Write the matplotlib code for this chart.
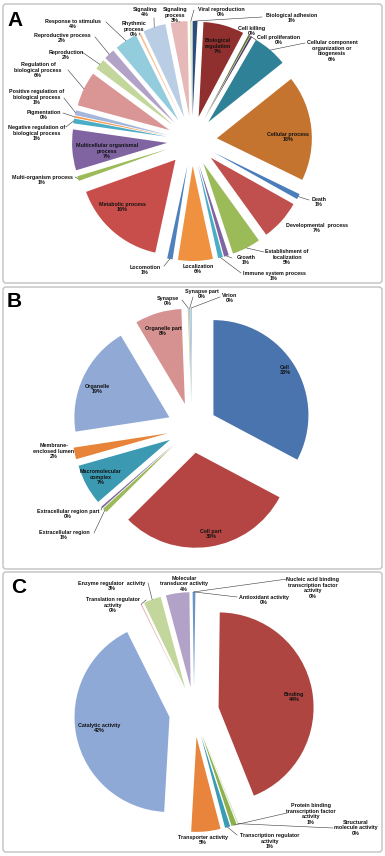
import matplotlib
matplotlib.use("Agg")
import matplotlib.pyplot as plt
import numpy as np
from matplotlib.patches import FancyBboxPatch

W, H = 385, 856

# ---------------- Panel A : biological process ----------------
A_categories = [
    "Biological adhesion", "Biological\nregulation", "Cell killing", "Cell proliferation",
    "Cellular component\norganization or\nbiogenesis", "Cellular process", "Death",
    "Developmental  process", "Establishment of\nlocalization", "Growth",
    "Immune system process", "Localization", "Locomotion", "Metabolic process",
    "Multi-organism process", "Multicellular organismal\nprocess",
    "Negative regulation of\nbiological process", "Pigmentation",
    "Positive regulation of\nbiological process", "Regulation of\nbiological process",
    "Reproduction", "Reproductive process", "Response to stimulus", "Rhythmic\nprocess",
    "Signaling", "Signaling\nprocess", "Viral reproduction",
]
A_values = [0.8, 6.8, 0.3, 0.3, 5.8, 17.6, 0.9, 6.8, 4.8, 0.8, 0.8, 5.8, 0.9, 15.8,
            0.8, 6.8, 0.8, 0.3, 0.8, 5.8, 1.8, 1.8, 3.8, 0.3, 3.8, 2.8, 0.3]
A_colors = ["#2C4D75", "#8F2F2E", "#5F7530", "#4D3B62", "#2E8196", "#C5742F",
            "#4A7EBB", "#C0504D", "#9BBB59", "#8064A2", "#4BACC6", "#F0913F",
            "#4F81BD", "#C84E4B", "#9BBB59", "#8064A2", "#4BACC6", "#F79646",
            "#A5B6DC", "#DA9694", "#C3D69B", "#B3A2C7", "#93CDDD", "#FAC090",
            "#B9CDE5", "#E6B9B8", "#D7E4BD"]

# ---------------- Panel B : cellular component ----------------
B_categories = ["Cell", "Cell part", "Extracellular region", "Extracellular region part",
                "Macromolecular\ncomplex", "Membrane-\nenclosed lumen", "Organelle",
                "Organelle part", "Synapse", "Synapse part", "Virion"]
B_values = [33, 30, 0.8, 0.3, 7, 2, 19, 8, 0.2, 0.2, 0.2]
B_colors = ["#4A74AD", "#B44542", "#9BBB59", "#8064A2", "#3B9AB2", "#E8843A",
            "#91A9D5", "#D69290", "#C3D69B", "#B3A2C7", "#93CDDD"]

# ---------------- Panel C : molecular function ----------------
C_categories = ["Antioxidant activity", "Binding", "Structural\nmolecule activity",
                "Protein binding\ntranscription factor\nactivity",
                "Transcription regulator\nactivity", "Transporter activity",
                "Catalytic activity", "Translation regulator\nactivity",
                "Enzyme regulator  activity", "Molecular\ntransducer activity",
                "Nucleic acid binding\ntranscription factor\nactivity"]
C_values = [0.2, 44, 0.2, 0.9, 0.9, 5, 42, 0.2, 3, 4, 0.2]
C_colors = ["#4F81BD", "#AE4541", "#D7E4BD", "#8DB04C", "#3A9BB5", "#E8843C",
            "#8FA9D6", "#E6B9B8", "#C3D69B", "#B3A2C7", "#4F81BD"]

# ---------------- layout (pixel positions) ----------------
# (text x, text y, leader start point or None)
A_layout = [
    (292, 18, (262, 17)), (218, 46, None), (252, 31, (250, 36)), (279, 40, (256, 40)),
    (332, 51, (305, 43)), (288, 137, None), (319, 202, (309, 200)), (317, 228, None),
    (287, 257, (264, 252)), (246, 260, (232, 258)), (274, 276, (241, 273)),
    (198, 269, None), (145, 270, (164, 266)), (122, 207, None), (42, 180, (75, 177)),
    (107, 151, None), (37, 133, (66, 127)), (44, 115, (63, 113)), (37, 97, (64, 98)),
    (38, 70, (68, 70)), (66, 55, (82, 52)), (62, 38, (95, 37)), (73, 24, (106, 22)),
    (134, 29, (139, 35)), (145, 12, (154, 18)), (175, 15, (180, 22)), (221, 12, (194, 10)),
]
B_layout = [
    (285, 370, None), (211, 534, None), (64, 535, (94, 533)), (68, 514, (101, 510)),
    (101, 477, None), (54, 451, None), (97, 389, None), (163, 331, None),
    (168, 301, (182, 300)), (202, 294, (193, 297)), (230, 298, (220, 297)),
]
C_layout = [
    (264, 600, (237, 597)), (294, 697, None), (356, 828, (333, 828)),
    (311, 814, (287, 813)), (270, 841, (237, 835)), (203, 840, None),
    (99, 728, None), (113, 605, (146, 600)), (112, 586, (148, 583)),
    (184, 584, None), (313, 588, (287, 579)),
]

R, D = 95, 25
centers = {"A": (192, 141), "B": (192, 428), "C": (194, 712)}
panels = {"A": (4, 283), "B": (287, 569), "C": (572, 852)}
letter_pos = {"A": (7, 26), "B": (7, 307), "C": (11, 593)}

FONT = "Liberation Sans"
fig = plt.figure(figsize=(W / 100, H / 100), dpi=100)
ax = fig.add_axes([0, 0, 1, 1])


def draw(values, colors, names, layout, center):
    cx, cy = center
    ax.pie(values, explode=[D] * len(values), colors=colors, startangle=90,
           counterclock=False, radius=R, center=(cx, H - cy),
           wedgeprops=dict(linewidth=0), frame=True)
    total = float(sum(values))
    cum = np.concatenate([[0], np.cumsum(values)])
    for i, (name, (tx, ty, lead)) in enumerate(zip(names, layout)):
        pct = int(round(100 * values[i] / total))
        ax.text(tx, H - ty, f"{name}\n{pct}%", ha="center", va="center",
                fontsize=3.85, fontweight="bold", family=FONT, color="#111111",
                linespacing=1.15, zorder=5)
        if lead is not None:
            mid = (cum[i] + cum[i + 1]) / 2 / total * 2 * np.pi
            ex = cx + (R + D) * np.sin(mid)
            ey = cy - (R + D) * np.cos(mid)
            ax.plot([lead[0], ex], [H - lead[1], H - ey], color="#3A3A3A", lw=0.4, zorder=4)


draw(A_values, A_colors, A_categories, A_layout, centers["A"])
draw(B_values, B_colors, B_categories, B_layout, centers["B"])
draw(C_values, C_colors, C_categories, C_layout, centers["C"])

for key, (top, bottom) in panels.items():
    ax.add_patch(FancyBboxPatch((3, H - bottom), 379, bottom - top,
                                boxstyle="round,pad=0,rounding_size=3",
                                fill=False, ec="#C6C6C6", lw=1.1, zorder=6))
    lx, ly = letter_pos[key]
    ax.text(lx, H - ly, key, fontsize=15, fontweight="bold", family=FONT,
            ha="left", va="baseline", color="black")

ax.set_xlim(0, W)
ax.set_ylim(0, H)
ax.set_aspect("auto")
ax.axis("off")
fig.savefig("out.png", dpi=100, facecolor="white")
